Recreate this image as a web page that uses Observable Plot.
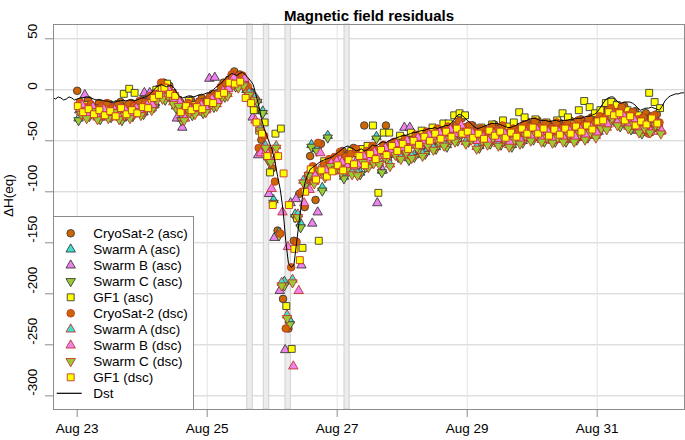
<!DOCTYPE html>
<html><head><meta charset="utf-8">
<script src="https://cdn.jsdelivr.net/npm/d3@7"></script>
<script src="https://cdn.jsdelivr.net/npm/@observablehq/plot@0.6"></script>
<style>
body{margin:0;background:#fff;}
#wrap{position:relative;width:685px;height:440px;font-family:"Liberation Sans",Arial,Helvetica,sans-serif;}
</style></head><body><div id="wrap"></div>
<script>
// ---- data ----
const startDay = "2018-08-23T00:00:00Z";
const cadenceHours = 2;          // spacing of residual estimates, hours
const dstStartHour = -9;         // Dst hourly values start (hours from startDay)

const titleText = "Magnetic field residuals";
const yLabel = "ΔH(eq)";
const yTicks = [-300, -250, -200, -150, -100, -50, 0, 50];
const xTickDates = ["2018-08-23", "2018-08-25", "2018-08-27", "2018-08-29", "2018-08-31"];
const xDomain = ["2018-08-22T15:15:00Z", "2018-09-01T08:14:00Z"];
const yDomain = [-313.4, 64];

// shaded intervals (hours from startDay)
const bandStartH = [62.8, 68.9, 76.9, 98.7];
const bandEndH   = [64.8, 70.9, 78.9, 100.6];

const seriesLabels = ["CryoSat-2 (asc)", "Swarm A (asc)", "Swarm B (asc)", "Swarm C (asc)", "GF1 (asc)",
  "CryoSat-2 (dsc)", "Swarm A (dsc)", "Swarm B (dsc)", "Swarm C (dsc)", "GF1 (dsc)"];
const seriesOffsetH = [0, 0.5, 0.8, 0.5, 1.2, 1.0, 1.5, 1.8, 1.5, 0.2];

const cryosatAsc = [
 -1, -15, -10, -17, -13, -18, -14, -19, -12, -17, -13, -16,
 -10, -11, -4, 1, 7, 4, -7, -12, -16, -10, -14, -8,
 -10, -4, -3, 7, 10, 18, 15, 7, -2, -20, -49, -62,
 -77, -138, -205, -234, -148, -102, -115, -65, -108, -53, -72, -70,
 -68, -60, -63, -57, -65, -35, -69, -58, -60, -35, -53, -57,
 -47, -52, -45, -49, -42, -46, -39, -44, -37, -40, -34, -28,
 -36, -35, -44, -38, -41, -34, -40, -36, -42, -36, -39, -31,
 -34, -30, -37, -33, -36, -32, -35, -30, -34, -29, -33, -27,
 -29, -20, -19, -14, -21, -16, -23, -21, -29, -23, -26, -24];
const swarmAAsc = [
 -28, -19, -24, -21, -27, -19, -25, -21, -28, -20, -24, -18,
 -22, -13, -15, -3, -8, -5, -16, -28, -20, -23, -16, -21,
 -12, -15, -5, -5, 7, 5, 9, 0, -4, -10, -21, -66,
 -108, -140, -188, -226, -122, -131, -90, -54, -58, -96, -45, -68,
 -73, -85, -75, -78, -81, -74, -65, -46, -79, -67, -59, -64,
 -57, -67, -64, -59, -61, -52, -56, -49, -54, -46, -48, -40,
 -49, -46, -55, -47, -51, -44, -52, -47, -54, -46, -50, -42,
 -47, -42, -49, -44, -49, -44, -49, -42, -47, -40, -45, -38,
 -41, -30, -31, -24, -34, -29, -37, -33, -41, -33, -38, -33];
const swarmBAsc = [
 -20, -5, -16, -25, -18, -26, -17, -24, -27, -19, -23, -18,
 -3, -3, -13, -4, -5, -8, -28, -37, -17, -21, -16, -18,
 11, 12, -2, 2, 8, 12, 10, 3, -27, -64, -56, -102,
 -145, -197, -255, -111, -107, -172, -86, -131, -120, -75, -70, -73,
 -67, -78, -63, -71, -62, -67, -59, -111, -79, -63, -54, -58,
 -37, -37, -52, -55, -47, -51, -44, -49, -41, -45, -37, -41,
 -41, -49, -45, -49, -42, -47, -42, -50, -45, -49, -41, -45,
 -38, -45, -40, -47, -40, -47, -39, -45, -38, -43, -36, -41,
 -32, -33, -23, -28, -25, -33, -29, -40, -42, -37, -30, -38];
const swarmCAsc = [
 -30, -21, -26, -23, -29, -21, -27, -23, -30, -22, -26, -20,
 -24, -15, -17, -5, -10, -7, -18, -30, -22, -25, -18, -23,
 -14, -17, -7, -7, 5, 3, 7, -2, -6, -12, -23, -69,
 -111, -143, -192, -230, -125, -135, -92, -56, -60, -99, -47, -70,
 -75, -87, -77, -80, -83, -76, -67, -48, -81, -69, -61, -66,
 -59, -69, -66, -61, -63, -54, -58, -51, -56, -48, -50, -42,
 -51, -48, -57, -49, -53, -46, -54, -49, -56, -48, -52, -44,
 -49, -44, -51, -46, -51, -46, -51, -44, -49, -42, -47, -40,
 -43, -32, -33, -26, -36, -31, -39, -35, -43, -35, -40, -35];
const gf1Asc = [
 -19, -15, -21, -18, -22, -16, -20, -14, -4, 1, -3, -17,
 -12, -13, 0, 1, 6, -3, -10, -18, -11, -15, -12, -14,
 -7, -8, -1, 2, 10, 12, 9, -8, -20, -40, -32, -81,
 -43, -38, -212, -254, -126, -155, -84, -82, -148, -70, -72, -79,
 -77, -65, -60, -62, -58, -55, -35, -101, -42, -42, -53, -45,
 -49, -42, -47, -40, -45, -37, -41, -33, -33, -25, -23, -25,
 -35, -41, -37, -41, -34, -39, -30, -36, -32, -22, -27, -36,
 -29, -36, -32, -37, -30, -23, -27, -34, -20, -11, -17, -23,
 -20, -13, -12, -15, -18, -20, -22, -25, -28, -3, -12, -18];
const cryosatDsc = [
 -12, -17, -14, -19, -16, -13, -18, -15, -20, -14, -16, -11,
 -13, -6, -4, 7, 2, -3, -10, -20, -13, -17, -12, -14,
 -7, -6, 3, 6, 15, 13, 14, 3, -8, -57, -45, -60,
 -90, -141, -234, -174, -149, -100, -88, -75, -52, -74, -68, -66,
 -61, -66, -63, -58, -67, -60, -55, -62, -54, -59, -51, -56,
 -48, -52, -44, -49, -41, -45, -38, -43, -36, -40, -31, -37,
 -35, -42, -38, -43, -36, -40, -35, -42, -38, -41, -34, -37,
 -31, -37, -33, -38, -32, -38, -33, -36, -30, -35, -29, -33,
 -26, -27, -18, -22, -17, -25, -22, -29, -27, -43, -25, -32];
const swarmADsc = [
 -22, -26, -19, -27, -23, -26, -20, -27, -23, -26, -19, -23,
 -16, -18, -8, -7, -4, -12, -14, -28, -20, -22, -18, -20,
 -12, -14, -5, -4, 7, 4, 6, -3, -8, -38, -55, -69,
 -55, -189, -221, -186, -122, -89, -82, -90, -78, -84, -73, -76,
 -79, -77, -81, -82, -69, -74, -70, -71, -64, -73, -62, -66,
 -60, -65, -55, -63, -53, -57, -49, -53, -46, -49, -41, -51,
 -47, -56, -48, -52, -45, -53, -46, -54, -47, -51, -43, -48,
 -42, -49, -45, -50, -45, -49, -42, -49, -41, -47, -40, -45,
 -36, -37, -26, -33, -29, -36, -32, -40, -36, -40, -33, -41];
const swarmBDsc = [
 -15, -24, -17, -26, -19, -27, -20, -24, -20, -25, -18, -23,
 -15, -15, -5, -5, 0, -10, -12, -28, -19, -22, -15, -19,
 -9, -11, -1, 1, 12, 8, 11, -8, -30, -62, -60, -97,
 -64, -120, -154, -271, -197, -111, -98, -84, -62, -79, -72, -70,
 -71, -75, -75, -73, -65, -69, -61, -65, -57, -61, -53, -57,
 -50, -54, -47, -52, -44, -49, -42, -47, -39, -43, -35, -44,
 -42, -50, -46, -50, -43, -48, -43, -51, -46, -50, -42, -46,
 -39, -46, -41, -48, -41, -48, -40, -46, -39, -44, -37, -42,
 -33, -34, -24, -30, -26, -34, -30, -39, -36, -41, -33, -40];
const swarmCDsc = [
 -24, -28, -21, -29, -25, -28, -22, -29, -25, -28, -21, -25,
 -18, -20, -10, -9, -6, -14, -16, -30, -22, -24, -20, -22,
 -14, -16, -7, -6, 5, 2, 4, -5, -10, -40, -57, -71,
 -57, -192, -224, -189, -125, -91, -84, -92, -80, -86, -75, -78,
 -81, -79, -83, -84, -71, -76, -72, -73, -66, -75, -64, -68,
 -62, -67, -57, -65, -55, -59, -51, -55, -48, -51, -43, -53,
 -49, -58, -50, -54, -47, -55, -48, -56, -49, -53, -45, -50,
 -44, -51, -47, -52, -47, -51, -44, -51, -43, -49, -42, -47,
 -38, -39, -28, -35, -31, -38, -34, -42, -38, -42, -35, -43];
const gf1Dsc = [
 -16, -22, -19, -24, -20, -25, -21, -26, -18, -24, -20, -23,
 -17, -18, -8, -5, 2, -4, -6, -22, -16, -20, -17, -19,
 -12, -13, -5, -3, 7, 6, 8, -8, -13, -32, -43, -65,
 -113, -65, -82, -113, -156, -167, -100, -78, -88, -79, -85, -80,
 -74, -79, -69, -73, -65, -74, -63, -68, -59, -64, -55, -60,
 -53, -58, -50, -54, -46, -50, -43, -48, -41, -46, -38, -43,
 -41, -47, -43, -48, -40, -45, -41, -47, -42, -46, -38, -43,
 -37, -43, -38, -45, -39, -44, -38, -43, -36, -41, -35, -39,
 -31, -30, -22, -25, -23, -30, -26, -35, -31, -34, -28, -33];

// Dst, hourly from dstStartHour
const dstValues = [
 -8, -9, -7, -8, -10, -9, -7, -8, -10, -9,
 -8, -8, -7, -7, -8, -9, -10, -10, -10, -11, -11, -12, -12, -12, -11, -11, -10, -11, -10, -10, -11, -10, -9, -8,
 -7, -6, -4, -1, 2, 4, 5, 4, 3, 4, 4, 1, -4, -7, -8, -7, -6, -6, -7, -6, -5, -5, -4, -3,
 -3, -1, 2, 4, 6, 9, 12, 14, 16, 15, 14, 16, 17, 15, 12, 9, 5, -5, -15, -28, -38, -45, -52, -59,
 -70, -85, -98, -118, -148, -170, -174, -172, -150, -128, -108, -92, -84, -78, -76, -74, -72, -70, -69, -68, -67, -66, -64, -62,
 -60, -58, -56, -55, -57, -58, -60, -59, -58, -60, -59, -57, -54, -55, -54, -52, -51, -52, -50, -49, -48, -47, -46, -45,
 -45, -44, -43, -42, -42, -41, -40, -40, -39, -38, -38, -37, -38, -37, -36, -35, -35, -33, -30, -26, -24, -25, -27, -30,
 -32, -35, -37, -38, -37, -36, -35, -34, -33, -33, -33, -34, -35, -36, -37, -37, -36, -35, -33, -32, -31, -30, -29, -28,
 -28, -29, -30, -30, -30, -31, -31, -30, -30, -31, -30, -30, -30, -29, -29, -28, -28, -28, -27, -26, -26, -25, -24, -22,
 -18, -14, -10, -8, -7, -7, -10, -13, -13, -12, -12, -12, -13, -15, -18, -20, -19, -18, -18, -17, -18, -19, -20, -16,
 -11, -8, -6, -5, -4, -4, -3, -3, -3];

// ---- build ----
const t0 = Date.parse(startDay);
const HOUR = 3600e3;
const rows = (vals, off) => vals.map((v, i) => ({t: new Date(t0 + (off + cadenceHours * i) * HOUR), v}));
const dst = dstValues.map((v, i) => ({t: new Date(t0 + (dstStartHour + i) * HOUR), v}));
const bands = bandStartH.map((s, i) => ({s: new Date(t0 + s * HOUR), e: new Date(t0 + bandEndH[i] * HOUR)}));

const triangleDown = {
  draw(context, size) {
    const y = -Math.sqrt(size / (Math.sqrt(3) * 3));
    context.moveTo(0, -y * 2);
    context.lineTo(-Math.sqrt(3) * y, y);
    context.lineTo(Math.sqrt(3) * y, y);
    context.closePath();
  }
};

const colCryo = "#CD6600", colA = "#40E0D0", colB = "#EE82EE", colC = "#9ACD32", colGF = "#FFFF00";
const strokeAsc = "#3a3a3a", strokeDsc = "#C2362B";
const shapes = [
  {sym: "circle", d3sym: d3.symbolCircle, r: 3.8, fill: colCryo},
  {sym: "triangle", d3sym: d3.symbolTriangle, r: 3.5, fill: colA},
  {sym: "triangle", d3sym: d3.symbolTriangle, r: 3.5, fill: colB},
  {sym: triangleDown, d3sym: triangleDown, r: 3.5, fill: colC},
  {sym: "square", d3sym: d3.symbolSquare, r: 3.9, fill: colGF}
];
const seriesValues = [cryosatAsc, swarmAAsc, swarmBAsc, swarmCAsc, gf1Asc, cryosatDsc, swarmADsc, swarmBDsc, swarmCDsc, gf1Dsc];
const specs = seriesValues.map((vals, k) => {
  const sh = shapes[k % 5];
  return {label: seriesLabels[k], data: rows(vals, seriesOffsetH[k]), sym: sh.sym, d3sym: sh.d3sym, r: sh.r,
          fill: sh.fill, stroke: k < 5 ? strokeAsc : strokeDsc};
});

const FONT = '"Liberation Sans", Arial, Helvetica, sans-serif';
const gray = "#8c8c8c";
const xTicks = xTickDates.map(d => new Date(d + "T00:00:00Z"));

const chart = Plot.plot({
  width: 685, height: 440,
  marginLeft: 53, marginRight: 1, marginTop: 24, marginBottom: 31,
  style: {fontFamily: FONT, fontSize: "13.5px", color: "#000", background: "#fff"},
  x: {type: "utc", domain: xDomain.map(d => new Date(d))},
  y: {domain: yDomain},
  marks: [
    Plot.gridY(yTicks, {stroke: "#cfcfcf", strokeOpacity: 1}),
    Plot.gridX(xTicks, {stroke: "#e4e4e4", strokeOpacity: 1}),
    Plot.rect(bands, {x1: "s", x2: "e", fill: "#ececec", stroke: "#d0d0d0", strokeWidth: 1}),
    ...specs.map(s => Plot.dot(s.data, {x: "t", y: "v", symbol: s.sym, r: s.r, fill: s.fill, stroke: s.stroke, strokeWidth: 0.9})),
    Plot.line(dst, {x: "t", y: "v", stroke: "#000", strokeWidth: 1, clip: true}),
    Plot.frame({stroke: gray}),
    Plot.axisX(xTicks, {tickFormat: d3.utcFormat("%b %d"), tickSize: 8, tickPadding: 6, stroke: gray, fill: "#000", fontSize: 13.5, label: null}),
    Plot.axisY(yTicks, {tickSize: 8, tickFormat: () => "", stroke: gray, label: null}),
    Plot.text(yTicks, {y: d => d, text: d => String(d), frameAnchor: "left", dx: -17, rotate: -90, lineAnchor: "bottom", fontSize: 13.5, fill: "#000"}),
    Plot.text([yLabel], {text: d => d, frameAnchor: "left", dx: -40.5, rotate: -90, lineAnchor: "bottom", fontSize: 13.5, fill: "#000"}),
    Plot.text([titleText], {text: d => d, frameAnchor: "top", dy: -14, fontWeight: "bold", fontSize: 15, fill: "#000"})
  ]
});
document.getElementById("wrap").appendChild(chart);

// ---- legend ----
const lg = d3.select("#wrap").append("svg")
  .attr("width", 141).attr("height", 194)
  .style("position", "absolute").style("left", "53px").style("top", "216px")
  .style("font-family", FONT).style("font-size", "13.5px");
lg.append("rect").attr("x", 0.5).attr("y", 0.5).attr("width", 140).attr("height", 193)
  .attr("fill", "#fff").attr("stroke", gray);
specs.forEach((s, k) => {
  const cy = 17.3 + 16 * k;
  lg.append("path").attr("transform", `translate(17.7,${cy})`)
    .attr("d", d3.symbol(s.d3sym, Math.PI * s.r * s.r)())
    .attr("fill", s.fill).attr("stroke", s.stroke).attr("stroke-width", 0.9);
  lg.append("text").attr("x", 40.3).attr("y", cy).attr("dy", "0.35em").text(s.label);
});
const dcy = 17.3 + 16 * 10;
lg.append("line").attr("x1", 3.7).attr("x2", 28.7).attr("y1", dcy).attr("y2", dcy).attr("stroke", "#000").attr("stroke-width", 1.2);
lg.append("text").attr("x", 40.3).attr("y", dcy).attr("dy", "0.35em").text("Dst");
</script></body></html>
